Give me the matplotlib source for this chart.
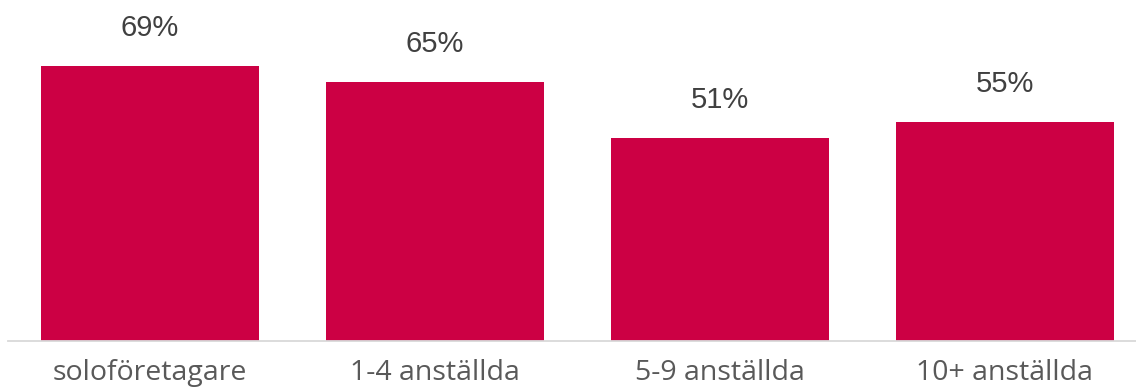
import matplotlib
matplotlib.use("Agg")
import matplotlib.pyplot as plt

categories = ["soloföretagare", "1-4 anställda", "5-9 anställda", "10+ anställda"]
values = [69, 65, 51, 55]
value_labels = ["69%", "65%", "51%", "55%"]

W, H = 1136, 392
fig = plt.figure(figsize=(W / 100, H / 100), dpi=100)
ax = fig.add_axes([7.5 / W, 51 / H, 1 - 7.5 / W, 341 / H])

x = range(len(categories))
ax.bar(x, values, width=0.765, color="#CC0044", zorder=2)
ax.set_xlim(-0.5, 3.46)
ax.set_ylim(0, 85.5)

for xi, v, lab in zip(x, values, value_labels):
    ax.annotate(lab, (xi, v), xytext=(0, 38), textcoords="offset pixels",
                ha="center", va="center", fontsize=21, color="#404040",
                family="Liberation Sans")

ax.set_xticks(list(x))
ax.set_xticklabels(categories, fontsize=20.5, color="#595959", family="Open Sans")
ax.tick_params(axis="x", length=0, pad=13)
ax.set_yticks([])
for s in ["top", "right", "left"]:
    ax.spines[s].set_visible(False)
ax.spines["bottom"].set_color("#D9D9D9")
ax.spines["bottom"].set_linewidth(1.3)

fig.savefig("out.png", dpi=100)
